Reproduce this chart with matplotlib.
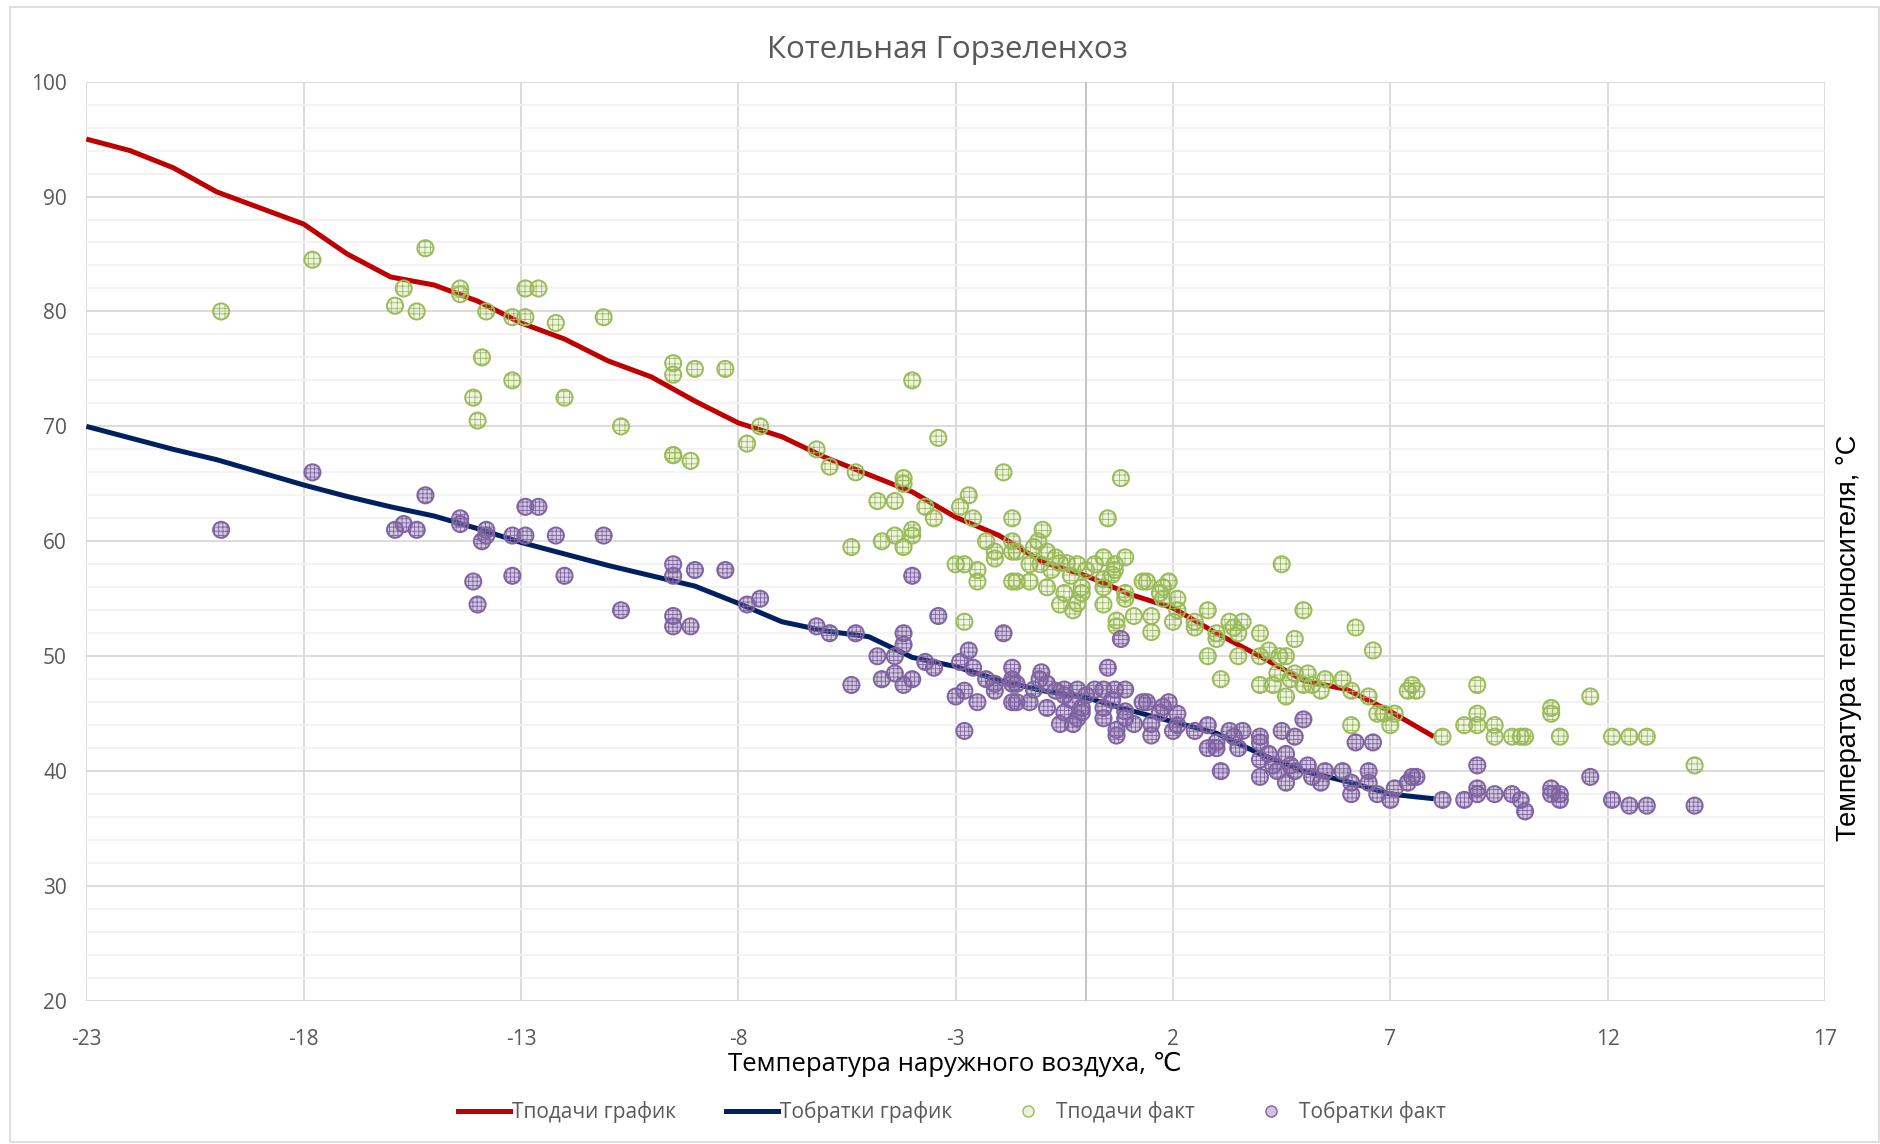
import matplotlib.pyplot as plt
from matplotlib.patches import Rectangle
from matplotlib.lines import Line2D
import numpy as np

# график (температурный график котельной)
x_graf = list(range(-23, 9))
t1_graf = [95, 94, 92.5, 90.4, 89, 87.6, 85, 83, 82.3, 80.9, 79, 77.6, 75.7, 74.3,
           72.2, 70.3, 69.1, 67.3, 65.8, 64.3, 62.1, 60.5, 58.2, 57.0, 55.4, 54.2,
           52.0, 50.0, 47.9, 47.1, 45.2, 43.0]
t2_graf = [70, 69, 68, 67.1, 66, 64.9, 63.9, 63, 62.2, 61.1, 59.9, 58.9, 57.9, 57.0,
           56.1, 54.6, 53.0, 52.2, 51.7, 49.9, 49.1, 47.9, 47.0, 46.4, 45.3, 44.3,
           43.3, 41.5, 40.0, 39.1, 38.0, 37.6]

# факт, подача
x_t1 = [-19.9, -17.8, -15.2, -15.7, -15.9, -15.4, -14.4, -14.4, -13.8, -13.2, -12.9, -12.6,
        -12.9, -12.2, -11.1, -13.9, -13.2, -14.1, -14.0, -12.0, -10.7,
        -9.5, -9.5, -9.0, -8.3, -9.5, -9.5, -9.1, -7.5, -7.8, -6.2, -5.9, -5.3, -4.0, -3.4,
        -4.2, -4.2, -4.8, -4.4, -3.7, -3.5, -5.4, -4.7, -4.4, -4.0, -4.0, -4.2,
        -2.9, -2.7, -2.6, -1.9, -1.7, -3.0, -2.8, -2.5, -2.5, -2.8,
        -1.0, -1.1, -1.2, -2.3, -1.7, -1.7, -1.6, -2.1, -2.1, -0.9, -0.7, -0.6, -0.45, -0.2,
        0.0, 0.2, 0.4, 0.9, 0.66, 0.66, 0.6, 0.4, 0.4, -1.7, -1.6, -1.3, -1.3, -1.05, -0.8,
        -0.35, -0.9, -0.5, -0.1, -0.1, -0.2, -0.6, -0.3, 0.4, 0.7, 0.7, 1.1, 1.5, 1.5, 0.9,
        0.9, 1.3, 1.4, 0.5, 0.8,
        1.7, 1.77, 1.9, 1.77, 2.1, 2.1, 2.0, 2.5, 2.5, 2.8, 3.0, 3.0, 3.3, 3.6, 3.4, 3.5,
        2.8, 3.5, 3.1, 4.0, 4.0, 4.2, 4.45, 4.6, 4.8, 4.0, 4.3, 4.4, 4.7, 4.6, 4.8, 5.0,
        5.2, 5.1, 5.4, 5.5, 5.9, 6.1, 6.1, 6.5, 6.7, 6.85, 7.1, 7.0, 7.5, 7.4, 7.6, 4.5,
        5.0, 6.2, 6.6, 8.2,
        8.7, 9.0, 9.0, 9.0, 9.4, 9.4, 9.8, 10.0, 10.1, 10.7, 10.7, 10.9, 11.6, 12.1, 12.5,
        12.9, 14.0]
t1_fact = [80, 84.5, 85.5, 82, 80.5, 80, 82, 81.5, 80, 79.5, 82, 82,
           79.5, 79, 79.5, 76, 74, 72.5, 70.5, 72.5, 70,
           75.5, 74.5, 75, 75, 67.5, 67.5, 67, 70, 68.5, 68, 66.5, 66, 74, 69,
           65.5, 65, 63.5, 63.5, 63, 62, 59.5, 60, 60.5, 61, 60.5, 59.5,
           63, 64, 62, 66, 62, 58, 58, 57.5, 56.5, 53,
           61, 60, 59.5, 60, 60, 59.1, 59.1, 59.1, 58.5, 59.1, 58.6, 58.1, 58.1, 58,
           57.5, 58, 58.6, 58.6, 58, 57.5, 57.1, 56.7, 56, 56.5, 56.5, 56.5, 58, 58, 57.5,
           57, 56, 55.5, 56, 55.5, 54.6, 54.5, 54, 54.5, 53.1, 52.6, 53.5, 53.5, 52.1, 55.5,
           55, 56.5, 56.5, 62, 65.5,
           55.5, 55, 56.5, 56, 55, 54, 53, 53, 52.5, 54, 52, 51.5, 53, 53, 52.5, 52,
           50, 50, 48, 52, 50, 50.5, 50, 50, 51.5, 47.5, 47.5, 48.5, 48, 46.5, 48.5, 47.5,
           47.5, 48.5, 47, 48, 48, 47, 44, 46.5, 45, 45, 45, 44, 47.5, 47, 47, 58,
           54, 52.5, 50.5, 43,
           44, 45, 44, 47.5, 44, 43, 43, 43, 43, 45.5, 45, 43, 46.5, 43, 43,
           43, 40.5]

# факт, обратка
x_t2 = [-19.9, -17.8, -15.2, -15.9, -15.7, -15.4, -14.4, -14.4, -13.8, -13.8, -13.9, -13.2,
        -12.9, -12.6, -12.9, -12.2, -11.1, -14.1, -14.0, -13.2, -12.0, -10.7,
        -9.5, -9.5, -9.0, -8.3, -4.0, -7.8, -7.5, -9.5, -9.5, -9.1, -6.2, -5.9, -5.3, -3.4,
        -4.2, -4.2, -4.8, -4.4, -3.7, -3.5, -5.4, -4.7, -4.4, -4.0, -4.2, -2.9, -2.7, -2.6,
        -1.9, 0.8, 0.5, -3.0, -2.8, -2.5, -2.8,
        -2.3, -2.1, -2.1, -1.7, -1.7, -1.7, -1.6, -1.07, -1.03, -1.2, -0.9, -0.7, -0.5, -0.2,
        -0.5, -0.35, 0.0, 0.2, 0.4, 0.66, 0.9, 0.6, 0.4, 0.4, 0.9, 0.9, 1.1, 0.7, 0.7, 1.5,
        1.5, 1.3, 1.4, 1.7, -1.7, -1.6, -1.3, -0.9, -0.5, -0.1, -0.1, -0.2, -0.6, -0.3,
        1.9, 1.77, 2.1, 2.1, 2.0, 2.5, 2.8, 3.0, 3.0, 2.8, 3.1, 3.3, 3.4, 3.6, 3.5, 4.0,
        4.0, 4.0, 4.2, 4.6, 4.5, 4.8, 4.0, 4.3, 4.4, 4.7, 4.6, 4.8, 5.1, 5.2, 5.4, 5.5,
        5.9, 6.1, 6.1, 6.5, 6.5, 6.7, 7.0, 7.1, 7.4, 7.5, 7.6, 5.0, 6.2, 6.6, 8.2,
        8.7, 9.0, 9.0, 9.0, 9.4, 9.8, 10.0, 10.1, 10.7, 10.7, 10.9, 10.9, 11.6, 12.1, 12.5,
        12.9, 14.0]
t2_fact = [61, 66, 64, 61, 61.5, 61, 62, 61.5, 61, 60.5, 60, 60.5,
           63, 63, 60.5, 60.5, 60.5, 56.5, 54.5, 57, 57, 54,
           58, 57, 57.5, 57.5, 57, 54.5, 55, 53.5, 52.6, 52.6, 52.6, 52, 52, 53.5,
           52, 51, 50, 50, 49.5, 49, 47.5, 48, 48.5, 48, 47.5, 49.5, 50.5, 49,
           52, 51.5, 49, 46.5, 47, 46, 43.5,
           48, 47.6, 47, 49, 48, 47.6, 47.6, 48, 48.6, 47.1, 47.6, 47, 47.1, 47.1,
           46.6, 46.2, 46.6, 47.1, 47.1, 47.1, 47.1, 46.2, 45.5, 44.6, 45.2, 44.6, 44.1, 43.6, 43.1, 44.1,
           43.1, 46, 46, 45.1, 46, 46, 46, 45.5, 45.1, 45.5, 45.1, 44.6, 44.1, 44.1,
           46, 45.6, 45, 44, 43.5, 43.5, 44, 42.5, 42, 42, 40, 43.5, 43, 43.5, 42, 43,
           42.5, 41, 41.5, 41.5, 43.5, 43, 39.5, 40.5, 40, 40.5, 39, 40, 40.5, 39.5, 39, 40,
           40, 39, 38, 40, 39, 38, 37.5, 38.5, 39, 39.5, 39.5, 44.5, 42.5, 42.5, 37.5,
           37.5, 40.5, 38.5, 38, 38, 38, 37.5, 36.5, 38.5, 38, 38, 37.5, 39.5, 37.5, 37,
           37, 37]

plt.rcParams['axes.unicode_minus'] = False
plt.rcParams['hatch.linewidth'] = 0.6

W, H = 1881, 1144
fig = plt.figure(figsize=(W / 100, H / 100), dpi=100)
fig.patches.append(Rectangle((10 / W, 2 / H), 1 - 12 / W, 1 - 9 / H, transform=fig.transFigure,
                             fill=False, edgecolor='#D9D9D9', linewidth=1.2))

ax = fig.add_axes([86.4 / W, 1 - 1001 / H, (1825 - 86.4) / W, (1001 - 81.6) / H])

ax.set_xlim(-23, 17)
ax.set_ylim(20, 100)
ax.set_xticks(np.arange(-23, 18, 5))
ax.set_yticks(np.arange(20, 101, 10))
ax.set_yticks(np.arange(20, 101, 2), minor=True)
ax.grid(True, which='minor', axis='y', color='#F2F2F2', linewidth=1.3)
ax.grid(True, which='major', axis='both', color='#D9D9D9', linewidth=1.3)
ax.set_axisbelow(True)
ax.axvline(0, color='#BFBFBF', linewidth=1.3, zorder=1)
for s in ax.spines.values():
    s.set_visible(False)
ax.tick_params(which='both', length=0)
ax.tick_params(axis='y', pad=14, labelsize=15, labelcolor='#595959')
ax.tick_params(axis='x', pad=20, labelsize=15, labelcolor='#595959')
for lab in ax.get_xticklabels() + ax.get_yticklabels():
    lab.set_fontfamily('Open Sans')

ax.plot(x_graf, t1_graf, color='#C00000', linewidth=3.6, zorder=3, solid_capstyle='butt')
ax.plot(x_graf, t2_graf, color='#002060', linewidth=3.6, zorder=3, solid_capstyle='butt')

green = '#9BBB59'
purple = '#8064A2'
ax.scatter(x_t1, t1_fact, s=135, facecolors=(0.61, 0.73, 0.35, 0.15), edgecolors=green,
           linewidths=1.4, hatch='+++', zorder=4)
ax.scatter(x_t2, t2_fact, s=135, facecolors=(0.50, 0.39, 0.64, 0.35), edgecolors=purple,
           linewidths=1.4, hatch='++++', zorder=4)

fig.text(947 / W, 1 - 50 / H, 'Котельная Горзеленхоз', ha='center', va='center',
         fontsize=22.5, color='#595959', family='Open Sans')
fig.text(955 / W, 1 - 1064 / H, 'Температура наружного воздуха, ℃', ha='center', va='center',
         fontsize=18.5, color='black', family=['Open Sans', 'DejaVu Sans'])
fig.text(1849 / W, 1 - 638 / H, 'Температура теплоносителя, °С', ha='center', va='center',
         rotation=90, fontsize=19.5, color='black', family='Liberation Sans')

handles = [
    Line2D([], [], color='#C00000', linewidth=3.6),
    Line2D([], [], color='#002060', linewidth=3.6),
    Line2D([], [], linestyle='none', marker='o', markersize=8, markerfacecolor='#EBF1DE',
           markeredgecolor=green),
    Line2D([], [], linestyle='none', marker='o', markersize=8, markerfacecolor='#CFC3DF',
           markeredgecolor=purple),
]
labels = ['Тподачи график', 'Тобратки график', 'Тподачи факт', 'Тобратки факт']
leg = fig.legend(handles, labels, loc='center', bbox_to_anchor=(952 / W, 1 - 1112 / H),
                 ncol=4, frameon=False, handlelength=2.5, handletextpad=0.1,
                 columnspacing=2.4, prop={'family': 'Open Sans', 'size': 15})
for t in leg.get_texts():
    t.set_color('#595959')

fig.savefig('out.png', dpi=100)
